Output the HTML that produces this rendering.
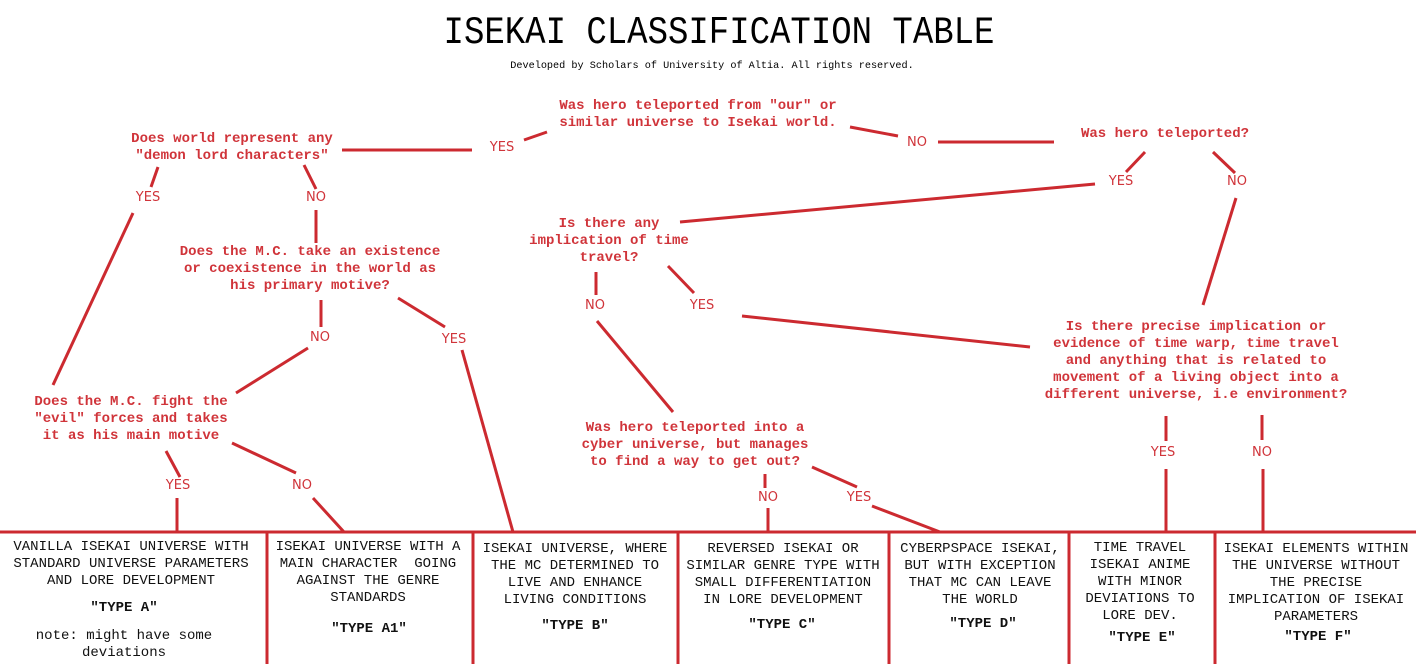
<!DOCTYPE html>
<html><head><meta charset="utf-8"><style>
body{margin:0;width:1416px;height:664px;background:#fff;position:relative;overflow:hidden}
.t{position:absolute;transform:translateX(-50%);text-align:center;white-space:pre;font-family:"Liberation Mono",monospace}
.q{color:#d0343a;font-weight:bold;font-size:14px;line-height:17px}
.l{color:#d0343a;font-family:"DejaVu Sans","Liberation Sans",sans-serif;font-size:13px;line-height:16px}
.b{color:#111;font-size:14px;line-height:17px}
svg{position:absolute;left:0;top:0}
</style></head><body>
<svg width="1416" height="664" stroke="#cc2a30" stroke-width="3" fill="none">
<line x1="0" y1="532" x2="1416" y2="532"/>
<line x1="267" y1="532" x2="267" y2="664"/><line x1="473" y1="532" x2="473" y2="664"/>
<line x1="678" y1="532" x2="678" y2="664"/><line x1="889" y1="532" x2="889" y2="664"/>
<line x1="1069" y1="532" x2="1069" y2="664"/><line x1="1215" y1="532" x2="1215" y2="664"/>
<line x1="342" y1="150" x2="472" y2="150"/>
<line x1="524" y1="140" x2="547" y2="132"/>
<line x1="850" y1="127" x2="898" y2="136"/>
<line x1="938" y1="142" x2="1054" y2="142"/>
<line x1="1145" y1="152" x2="1126" y2="172"/>
<line x1="1213" y1="152" x2="1235" y2="173"/>
<line x1="1095" y1="184" x2="680" y2="222"/>
<line x1="1236" y1="198" x2="1203" y2="305"/>
<line x1="158" y1="167" x2="151" y2="187"/>
<line x1="304" y1="165" x2="316" y2="189"/>
<line x1="133" y1="213" x2="53" y2="385"/>
<line x1="316" y1="210" x2="316" y2="243"/>
<line x1="321" y1="300" x2="321" y2="327"/>
<line x1="398" y1="298" x2="445" y2="327"/>
<line x1="308" y1="348" x2="236" y2="393"/>
<line x1="462" y1="350" x2="513" y2="532"/>
<line x1="166" y1="451" x2="180" y2="477"/>
<line x1="232" y1="443" x2="296" y2="473"/>
<line x1="177" y1="498" x2="177" y2="532"/>
<line x1="313" y1="498" x2="344" y2="532"/>
<line x1="596" y1="272" x2="596" y2="295"/>
<line x1="668" y1="266" x2="694" y2="293"/>
<line x1="597" y1="321" x2="673" y2="412"/>
<line x1="742" y1="316" x2="1030" y2="347"/>
<line x1="765" y1="474" x2="765" y2="488"/>
<line x1="768" y1="508" x2="768" y2="532"/>
<line x1="812" y1="467" x2="857" y2="487"/>
<line x1="872" y1="506" x2="940" y2="532"/>
<line x1="1166" y1="416" x2="1166" y2="441"/>
<line x1="1166" y1="469" x2="1166" y2="532"/>
<line x1="1262" y1="415" x2="1262" y2="440"/>
<line x1="1263" y1="469" x2="1263" y2="532"/>
</svg>
<div class="t" style="left:719px;top:14px;font-size:34px;line-height:40px;color:#000;transform:translateX(-50%) scaleY(1.15)">ISEKAI CLASSIFICATION TABLE</div>
<div class="t" style="left:712px;top:61px;font-size:10.2px;color:#000">Developed by Scholars of University of Altia. All rights reserved.</div>

<div class="t q" style="left:698px;top:98px">Was hero teleported from "our" or
similar universe to Isekai world.</div>
<div class="t q" style="left:1165px;top:126px">Was hero teleported?</div>
<div class="t q" style="left:232px;top:131px">Does world represent any
"demon lord characters"</div>
<div class="t q" style="left:310px;top:244px">Does the M.C. take an existence
or coexistence in the world as
his primary motive?</div>
<div class="t q" style="left:609px;top:216px">Is there any
implication of time
travel?</div>
<div class="t q" style="left:131px;top:394px">Does the M.C. fight the
"evil" forces and takes
it as his main motive</div>
<div class="t q" style="left:695px;top:420px">Was hero teleported into a
cyber universe, but manages
to find a way to get out?</div>
<div class="t q" style="left:1196px;top:319px">Is there precise implication or
evidence of time warp, time travel
and anything that is related to
movement of a living object into a
different universe, i.e environment?</div>

<div class="t l" style="left:502px;top:140px">YES</div>
<div class="t l" style="left:917px;top:135px">NO</div>
<div class="t l" style="left:1121px;top:174px">YES</div>
<div class="t l" style="left:1237px;top:174px">NO</div>
<div class="t l" style="left:148px;top:190px">YES</div>
<div class="t l" style="left:316px;top:190px">NO</div>
<div class="t l" style="left:320px;top:330px">NO</div>
<div class="t l" style="left:454px;top:332px">YES</div>
<div class="t l" style="left:595px;top:298px">NO</div>
<div class="t l" style="left:702px;top:298px">YES</div>
<div class="t l" style="left:178px;top:478px">YES</div>
<div class="t l" style="left:302px;top:478px">NO</div>
<div class="t l" style="left:768px;top:490px">NO</div>
<div class="t l" style="left:859px;top:490px">YES</div>
<div class="t l" style="left:1163px;top:445px">YES</div>
<div class="t l" style="left:1262px;top:445px">NO</div>

<div class="t b" style="left:131px;top:539px">VANILLA ISEKAI UNIVERSE WITH
STANDARD UNIVERSE PARAMETERS
AND LORE DEVELOPMENT</div>
<div class="t b" style="left:124px;top:600px;font-weight:bold">"TYPE A"</div>
<div class="t b" style="left:124px;top:628px">note: might have some
deviations</div>
<div class="t b" style="left:368px;top:539px">ISEKAI UNIVERSE WITH A
MAIN CHARACTER  GOING
AGAINST THE GENRE
STANDARDS</div>
<div class="t b" style="left:369px;top:621px;font-weight:bold">"TYPE A1"</div>
<div class="t b" style="left:575px;top:541px">ISEKAI UNIVERSE, WHERE
THE MC DETERMINED TO
LIVE AND ENHANCE
LIVING CONDITIONS</div>
<div class="t b" style="left:575px;top:618px;font-weight:bold">"TYPE B"</div>
<div class="t b" style="left:783px;top:541px">REVERSED ISEKAI OR
SIMILAR GENRE TYPE WITH
SMALL DIFFERENTIATION
IN LORE DEVELOPMENT</div>
<div class="t b" style="left:782px;top:617px;font-weight:bold">"TYPE C"</div>
<div class="t b" style="left:980px;top:541px">CYBERPSPACE ISEKAI,
BUT WITH EXCEPTION
THAT MC CAN LEAVE
THE WORLD</div>
<div class="t b" style="left:983px;top:616px;font-weight:bold">"TYPE D"</div>
<div class="t b" style="left:1140px;top:540px">TIME TRAVEL
ISEKAI ANIME
WITH MINOR
DEVIATIONS TO
LORE DEV.</div>
<div class="t b" style="left:1142px;top:630px;font-weight:bold">"TYPE E"</div>
<div class="t b" style="left:1316px;top:541px">ISEKAI ELEMENTS WITHIN
THE UNIVERSE WITHOUT
THE PRECISE
IMPLICATION OF ISEKAI
PARAMETERS</div>
<div class="t b" style="left:1318px;top:629px;font-weight:bold">"TYPE F"</div>
</body></html>
